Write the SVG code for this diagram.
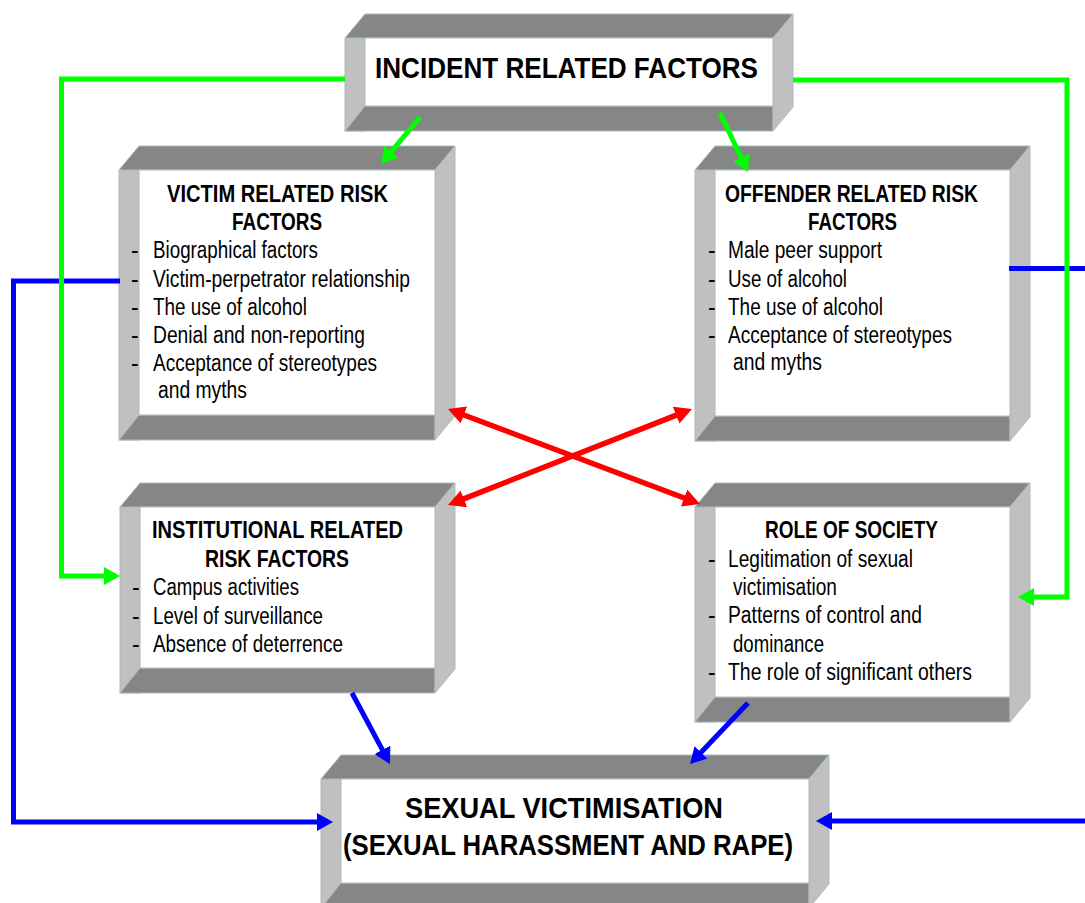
<svg xmlns="http://www.w3.org/2000/svg" width="1085" height="903" viewBox="0 0 1085 903">
<style>
.dk{fill:#868686;stroke:#aabcbc;stroke-width:1}
.lt{fill:#c0c0c0;stroke:#aabcbc;stroke-width:1}
.wh{fill:#ffffff;stroke:#aabcbc;stroke-width:1}
text{font-family:"Liberation Sans",Arial,sans-serif;fill:#000}
.h{font-weight:bold;font-size:23.5px}
.t{font-size:23px}
.big{font-weight:bold;font-size:29.5px}
.g{fill:none;stroke:#00ff00;stroke-width:5}
.b{fill:none;stroke:#0000ff;stroke-width:5}
.r{fill:none;stroke:#ff0000;stroke-width:5.5}
</style>
<defs>
<marker id="ag" markerUnits="userSpaceOnUse" markerWidth="16" markerHeight="18" refX="4" refY="9" orient="auto"><path d="M0,0 L16,9 L0,18 z" fill="#00ff00"/></marker>
<marker id="ab" markerUnits="userSpaceOnUse" markerWidth="16" markerHeight="18" refX="4" refY="9" orient="auto"><path d="M0,0 L16,9 L0,18 z" fill="#0000ff"/></marker>
<marker id="ar" markerUnits="userSpaceOnUse" markerWidth="17" markerHeight="18" refX="5" refY="9" orient="auto-start-reverse"><path d="M0,0 L17,9 L0,18 z" fill="#ff0000"/></marker>
</defs>

<g id="incident">
<rect class="lt" x="345" y="38" width="20" height="93"/>
<polygon class="dk" points="345,38 365,14 793,14 773,38"/>
<polygon class="dk" points="345,131 365,106 773,106 773,131"/>
<polygon class="lt" points="773,38 793,14 793,107 773,131"/>
<rect class="wh" x="365" y="38" width="408" height="68"/>
<text class="big" x="375" y="78" textLength="383" lengthAdjust="spacingAndGlyphs">INCIDENT RELATED FACTORS</text>
</g>

<g id="victim">
<rect class="lt" x="119" y="170" width="20" height="270"/>
<polygon class="dk" points="119,170 139,146 455,146 435,170"/>
<polygon class="dk" points="119,440 139,415 435,415 435,440"/>
<polygon class="lt" points="435,170 455,146 455,416 435,440"/>
<rect class="wh" x="139" y="170" width="296" height="245"/>
<text class="h" x="167" y="202" textLength="221" lengthAdjust="spacingAndGlyphs">VICTIM RELATED RISK</text>
<text class="h" x="232" y="230" textLength="90" lengthAdjust="spacingAndGlyphs">FACTORS</text>
<text class="t" x="131" y="258">-</text>
<text class="t" x="131" y="287">-</text>
<text class="t" x="131" y="315">-</text>
<text class="t" x="131" y="343">-</text>
<text class="t" x="131" y="371">-</text>
<text class="t" x="153" y="258" textLength="165" lengthAdjust="spacingAndGlyphs">Biographical factors</text>
<text class="t" x="153" y="287" textLength="257" lengthAdjust="spacingAndGlyphs">Victim-perpetrator relationship</text>
<text class="t" x="153" y="315" textLength="154" lengthAdjust="spacingAndGlyphs">The use of alcohol</text>
<text class="t" x="153" y="343" textLength="212" lengthAdjust="spacingAndGlyphs">Denial and non-reporting</text>
<text class="t" x="153" y="371" textLength="224" lengthAdjust="spacingAndGlyphs">Acceptance of stereotypes</text>
<text class="t" x="158" y="398" textLength="89" lengthAdjust="spacingAndGlyphs">and myths</text>
</g>

<g id="offender">
<rect class="lt" x="695" y="170" width="20" height="271"/>
<polygon class="dk" points="695,170 715,146 1030,146 1010,170"/>
<polygon class="dk" points="695,441 715,416 1010,416 1010,441"/>
<polygon class="lt" points="1010,170 1030,146 1030,417 1010,441"/>
<rect class="wh" x="715" y="170" width="295" height="246"/>
<text class="h" x="725" y="202" textLength="253" lengthAdjust="spacingAndGlyphs">OFFENDER RELATED RISK</text>
<text class="h" x="808" y="230" textLength="89" lengthAdjust="spacingAndGlyphs">FACTORS</text>
<text class="t" x="708" y="258">-</text>
<text class="t" x="708" y="287">-</text>
<text class="t" x="708" y="315">-</text>
<text class="t" x="708" y="343">-</text>
<text class="t" x="728" y="258" textLength="154" lengthAdjust="spacingAndGlyphs">Male peer support</text>
<text class="t" x="728" y="287" textLength="119" lengthAdjust="spacingAndGlyphs">Use of alcohol</text>
<text class="t" x="728" y="315" textLength="155" lengthAdjust="spacingAndGlyphs">The use of alcohol</text>
<text class="t" x="728" y="343" textLength="224" lengthAdjust="spacingAndGlyphs">Acceptance of stereotypes</text>
<text class="t" x="733" y="370" textLength="89" lengthAdjust="spacingAndGlyphs">and myths</text>
</g>

<g id="institutional">
<rect class="lt" x="120" y="507" width="20" height="186"/>
<polygon class="dk" points="120,507 140,483 455,483 435,507"/>
<polygon class="dk" points="120,693 140,668 435,668 435,693"/>
<polygon class="lt" points="435,507 455,483 455,669 435,693"/>
<rect class="wh" x="140" y="507" width="295" height="161"/>
<text class="h" x="152" y="538" textLength="251" lengthAdjust="spacingAndGlyphs">INSTITUTIONAL RELATED</text>
<text class="h" x="205" y="567" textLength="144" lengthAdjust="spacingAndGlyphs">RISK FACTORS</text>
<text class="t" x="132" y="595">-</text>
<text class="t" x="132" y="624">-</text>
<text class="t" x="132" y="652">-</text>
<text class="t" x="153" y="595" textLength="146" lengthAdjust="spacingAndGlyphs">Campus activities</text>
<text class="t" x="153" y="624" textLength="170" lengthAdjust="spacingAndGlyphs">Level of surveillance</text>
<text class="t" x="153" y="652" textLength="190" lengthAdjust="spacingAndGlyphs">Absence of deterrence</text>
</g>

<g id="society">
<rect class="lt" x="695" y="507" width="20" height="215"/>
<polygon class="dk" points="695,507 715,483 1030,483 1010,507"/>
<polygon class="dk" points="695,722 715,697 1010,697 1010,722"/>
<polygon class="lt" points="1010,507 1030,483 1030,698 1010,722"/>
<rect class="wh" x="715" y="507" width="295" height="190"/>
<text class="h" x="765" y="538" textLength="173" lengthAdjust="spacingAndGlyphs">ROLE OF SOCIETY</text>
<text class="t" x="708" y="567">-</text>
<text class="t" x="708" y="623">-</text>
<text class="t" x="708" y="680">-</text>
<text class="t" x="728" y="567" textLength="185" lengthAdjust="spacingAndGlyphs">Legitimation of sexual</text>
<text class="t" x="733" y="595" textLength="104" lengthAdjust="spacingAndGlyphs">victimisation</text>
<text class="t" x="728" y="623" textLength="194" lengthAdjust="spacingAndGlyphs">Patterns of control and</text>
<text class="t" x="733" y="652" textLength="91" lengthAdjust="spacingAndGlyphs">dominance</text>
<text class="t" x="728" y="680" textLength="244" lengthAdjust="spacingAndGlyphs">The role of significant others</text>
</g>

<g id="victimisation">
<rect class="lt" x="321" y="779" width="20" height="129"/>
<polygon class="dk" points="321,779 341,755 829,755 809,779"/>
<polygon class="dk" points="321,908 341,883 809,883 809,908"/>
<polygon class="lt" points="809,779 829,755 829,884 809,908"/>
<rect class="wh" x="341" y="779" width="468" height="104"/>
<text class="big" x="405" y="818" textLength="318" lengthAdjust="spacingAndGlyphs">SEXUAL VICTIMISATION</text>
<text class="big" x="343" y="855" textLength="450" lengthAdjust="spacingAndGlyphs">(SEXUAL HARASSMENT AND RAPE)</text>
</g>

<g id="connectors">
<polyline class="b" points="120,281 13.5,281 13.5,822 321,822" marker-end="url(#ab)"/>
<line class="b" x1="1009" y1="268.5" x2="1085" y2="268.5"/>
<polyline class="b" points="1085,821 828,821" marker-end="url(#ab)"/>
<line class="b" x1="352" y1="693" x2="384.3" y2="753.4" marker-end="url(#ab)"/>
<line class="b" x1="748" y1="703" x2="698.3" y2="755.3" marker-end="url(#ab)"/>
<polyline class="g" points="345,79 61.5,79 61.5,576 108,576" marker-end="url(#ag)"/>
<polyline class="g" points="793,80 1067,80 1067,597 1030,597" marker-end="url(#ag)"/>
<line class="g" x1="420" y1="117" x2="388.7" y2="154.8" marker-end="url(#ag)"/>
<line class="g" x1="720" y1="113" x2="742.9" y2="161.2" marker-end="url(#ag)"/>
<line class="r" x1="459.2" y1="413.2" x2="688.8" y2="499.8" marker-start="url(#ar)" marker-end="url(#ar)"/>
<line class="r" x1="680.8" y1="413.4" x2="459.2" y2="500.6" marker-start="url(#ar)" marker-end="url(#ar)"/>
</g>
</svg>
